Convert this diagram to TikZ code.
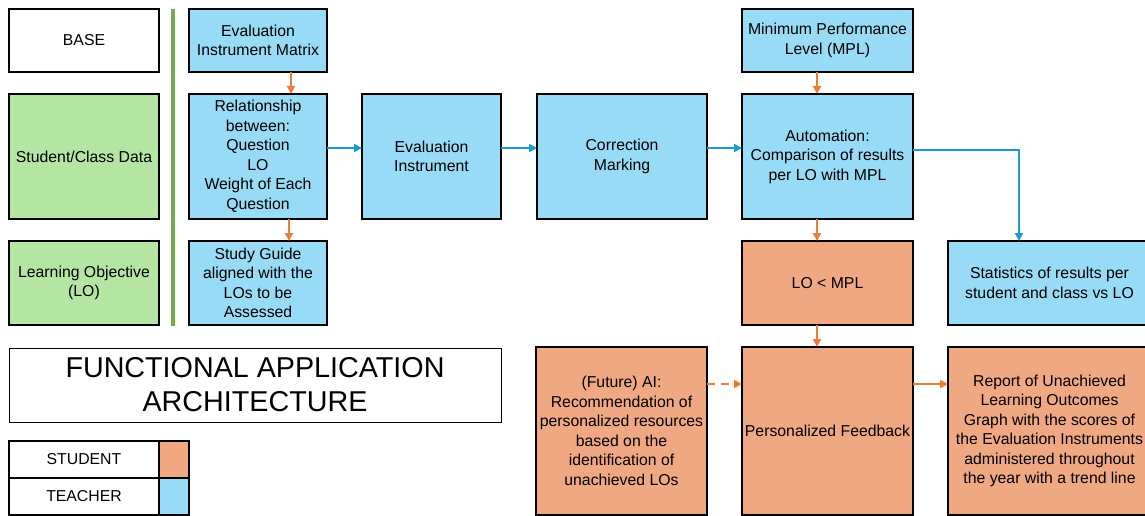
\documentclass[tikz,border=0pt]{standalone}
\usepackage{fontspec}
\setmainfont{Liberation Sans}
\usetikzlibrary{arrows.meta}
\definecolor{bluefill}{RGB}{151,219,247}
\definecolor{orangefill}{RGB}{240,168,130}
\definecolor{greenfill}{RGB}{181,229,162}
\definecolor{greenline}{RGB}{112,173,71}
\definecolor{bluearrow}{RGB}{25,155,213}
\definecolor{orangearrow}{RGB}{237,125,49}
\tikzset{
  box/.style={draw=black, line width=2.8pt, inner sep=0pt, outer sep=0pt, align=center,
    font=\fontsize{15.8}{19.5}\selectfont},
  bluebox/.style={box, fill=bluefill},
  orangebox/.style={box, fill=orangefill},
  greenbox/.style={box, fill=greenfill},
  whitebox/.style={box, fill=white},
  barr/.style={draw=bluearrow, line width=2.4pt, -{Triangle[length=8pt,width=8pt]}},
  oarr/.style={draw=orangearrow, line width=2.4pt, -{Triangle[length=8pt,width=8pt]}},
}
\begin{document}
\begin{tikzpicture}[x=1pt,y=-1pt]
\useasboundingbox (0,0) rectangle (1145,516);
\fill[white] (0,0) rectangle (1145,516);
% left column
\node[whitebox, minimum width=150pt, minimum height=63pt] (base) at (84,40.5) {BASE};
\node[greenbox, minimum width=150pt, minimum height=125pt] (scd) at (84,156.5) {Student/Class Data};
\node[greenbox, minimum width=150pt, minimum height=84pt] (lo) at (84,283) {Learning Objective\\(LO)};
% green separator
\coordinate (gtop) at (173,9);
\coordinate (gbot) at (173,326);
\draw[greenline, line width=3.2pt] (gtop) -- (gbot);
% second column
\node[bluebox, minimum width=138pt, minimum height=63pt] (eim) at (258,40.5) {Evaluation\\Instrument Matrix};
\node[bluebox, minimum width=138pt, minimum height=125pt] (rel) at (258,156.5) {Relationship\\between:\\Question\\LO\\Weight of Each\\Question};
\node[bluebox, minimum width=138pt, minimum height=84pt] (sg) at (258,283) {Study Guide\\aligned with the\\LOs to be\\Assessed};
% middle
\node[bluebox, minimum width=139pt, minimum height=125pt] (ei) at (431.5,156.5) {Evaluation\\Instrument};
\node[bluebox, minimum width=170pt, minimum height=125pt] (cm) at (622,156.5) {Correction\\Marking};
% automation column
\node[bluebox, minimum width=171pt, minimum height=63pt] (mpl) at (827.5,40.5) {Minimum Performance\\Level (MPL)};
\node[bluebox, minimum width=171pt, minimum height=125pt] (auto) at (827.5,156.5) {Automation:\\Comparison of results\\per LO with MPL};
\node[orangebox, minimum width=171pt, minimum height=84pt] (lompl) at (827.5,283) {LO < MPL};
\node[bluebox, minimum width=203pt, minimum height=84pt] (stats) at (1049.5,283) {Statistics of results per\\student and class vs LO};
% bottom row
\node[orangebox, minimum width=171pt, minimum height=168pt] (ai) at (621.5,431) {(Future) AI:\\Recommendation of\\personalized resources\\based on the\\identification of\\unachieved LOs};
\node[orangebox, minimum width=171pt, minimum height=168pt] (fb) at (827.5,431) {Personalized Feedback};
\node[orangebox, minimum width=203pt, minimum height=168pt] (rep) at (1049.5,431) {Report of Unachieved\\Learning Outcomes\\Graph with the scores of\\the Evaluation Instruments\\administered throughout\\the year with a trend line};
% title
\node[draw=black, line width=1pt, fill=white, minimum width=492pt, minimum height=74pt, align=center,
  font=\fontsize{28.7}{34}\selectfont] (title) at (255,385) {FUNCTIONAL APPLICATION\\ARCHITECTURE};
% legend
\node[whitebox, minimum width=150pt, minimum height=37pt] (lstu) at (84,459.5) {STUDENT};
\node[orangebox, minimum width=30pt, minimum height=37pt] (lstuc) at (174,459.5) {};
\node[whitebox, minimum width=150pt, minimum height=37pt] (ltea) at (84,496.5) {TEACHER};
\node[bluebox, minimum width=30pt, minimum height=37pt] (lteac) at (174,496.5) {};
% arrows
\draw[oarr] ([xshift=33pt]eim.south) -- ([xshift=33pt]rel.north);
\draw[oarr] ([xshift=31pt]rel.south) -- ([xshift=31pt]sg.north);
\draw[barr] ([yshift=8.5pt]rel.east) -- ([yshift=8.5pt]ei.west);
\draw[barr] ([yshift=8.5pt]ei.east) -- ([yshift=8.5pt]cm.west);
\draw[barr] ([yshift=8.5pt]cm.east) -- ([yshift=8.5pt]auto.west);
\draw[oarr] ([xshift=-10.5pt]mpl.south) -- ([xshift=-10.5pt]auto.north);
\draw[oarr] ([xshift=-10.5pt]auto.south) -- ([xshift=-10.5pt]lompl.north);
\draw[oarr] ([xshift=-10.5pt]lompl.south) -- ([xshift=-10.5pt]fb.north);
\draw[barr] ([yshift=6.5pt]auto.east) -| ([xshift=-30.5pt]stats.north);
\draw[oarr, dash pattern=on 8pt off 6pt] ([yshift=47pt]ai.east) -- ([yshift=47pt]fb.west);
\draw[oarr] ([yshift=47pt]fb.east) -- ([yshift=47pt]rep.west);
\end{tikzpicture}
\end{document}
